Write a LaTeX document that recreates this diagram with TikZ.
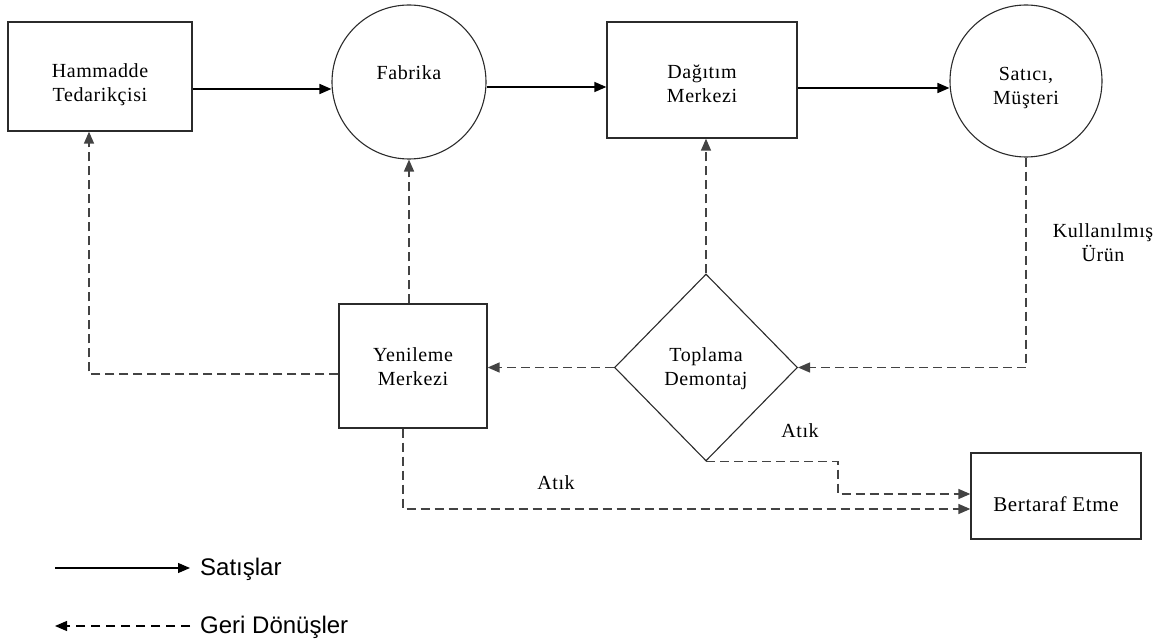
\documentclass[tikz,border=0pt]{standalone}
\usepackage{fontspec}
\setmainfont{Liberation Serif}[LetterSpace=3]
\newfontfamily\legendfont{Liberation Sans}
\usetikzlibrary{arrows.meta,shapes.geometric,calc}

\definecolor{edge}{HTML}{2B2B2B}
\definecolor{retgray}{HTML}{434343}

\tikzset{
  box/.style={draw=edge, line width=1.3pt, rectangle, inner sep=0pt},
  disc/.style={draw=edge, line width=1.1pt, circle, inner sep=0pt},
  rhomb/.style={draw=edge, line width=1.1pt, diamond, inner sep=0pt},
  lbl/.style={align=center, inner sep=0pt, font=\fontsize{20}{24}\selectfont},
  tip/.style={-{Triangle[length=12pt,width=10pt]}},
  sale/.style={tip, line width=1.5pt, black},
  ret/.style={tip, line width=1.5pt, retgray, dash pattern=on 9pt off 5pt},
  legtext/.style={anchor=west, inner sep=0pt, font=\legendfont\fontsize{24}{28}\selectfont}
}

\begin{document}
\begin{tikzpicture}[x=1pt,y=-1pt]
  \useasboundingbox (0,0) rectangle (1165,639);

  % forward chain
  \node[box, minimum width=184pt, minimum height=109pt] (ham) at (100,76.5) {};
  \node[lbl] (hamtxt) at ($(ham.center)+(0,8.5)$) {Hammadde\\Tedarikçisi};
  \node[disc, minimum size=154pt] (fab) at (409,82) {};
  \node[lbl] (fabtxt) at ($(fab.center)+(0,-9)$) {Fabrika};
  \node[box, minimum width=190pt, minimum height=116pt] (dag) at (702,80) {};
  \node[lbl] (dagtxt) at ($(dag.center)+(0,4)$) {Dağıtım\\Merkezi};
  \node[disc, minimum size=152pt] (sat) at (1026,81) {};
  \node[lbl] (sattxt) at ($(sat.center)+(0,7)$) {Satıcı,\\Müşteri};

  % reverse chain
  \node[rhomb, minimum width=183pt, minimum height=187pt] (dia) at (706,367.5) {};
  \node[lbl] (diatxt) at ($(dia.center)+(0,1.5)$) {Toplama\\Demontaj};
  \node[box, minimum width=148pt, minimum height=124pt] (yen) at (413,366) {};
  \node[lbl] (yentxt) at ($(yen.center)+(0,1)$) {Yenileme\\Merkezi};
  \node[box, minimum width=170pt, minimum height=86pt] (ber) at (1056,496) {};
  \node[lbl, font=\fontsize{21}{24}\selectfont] (bertxt) at ($(ber.center)+(0,8)$) {Bertaraf Etme};

  % flow labels
  \node[lbl] (kul) at (1103,243) {Kullanılmış\\Ürün};
  \node[lbl] (atik1) at (556,483) {Atık};
  \node[lbl] (atik2) at (800,431) {Atık};

  % sales flow
  \coordinate (s1) at ($(ham.east)+(0,12.5)$);
  \draw[sale] (s1) -- (s1 -| fab.west);
  \coordinate (s2) at ($(fab.east)+(0,5)$);
  \draw[sale] (s2) -- (s2 -| dag.west);
  \coordinate (s3) at ($(dag.east)+(0,8)$);
  \draw[sale] (s3) -- (s3 -| sat.west);

  % return flow
  \draw[ret] (sat.south) |- (dia.east);
  \draw[ret] (dia.north) -- (dia.north |- dag.south);
  \draw[ret] (dia.west) -- (dia.west -| yen.east);
  \draw[ret] (fab.south |- yen.north) -- (fab.south);
  \coordinate (yw) at ($(yen.west)+(0,8)$);
  \coordinate (hs) at ($(ham.south)+(-11,0)$);
  \draw[ret] (yw) -| (hs);
  \coordinate (ys) at ($(yen.south)+(-10,0)$);
  \coordinate (bw1) at ($(ber.west)+(0,13)$);
  \draw[ret] (ys) |- (bw1);
  \coordinate (bw2) at ($(ber.west)+(0,-2)$);
  \coordinate (bend) at (838,0);
  \draw[ret] (dia.south) -| (bend |- bw2) -- (bw2);

  % legend
  \coordinate (la) at (55,568);
  \coordinate (lb) at (190,568);
  \draw[sale, line width=1.2pt] (la) -- (lb);
  \node[legtext] (leg1) at (200,569) {Satışlar};
  \coordinate (lc) at (190,626);
  \coordinate (ld) at (55,626);
  \draw[ret, black, line width=1.2pt, dash pattern=on 9pt off 6pt] (lc) -- (ld);
  \node[legtext] (leg2) at (200,627) {Geri Dönüşler};
\end{tikzpicture}
\end{document}
